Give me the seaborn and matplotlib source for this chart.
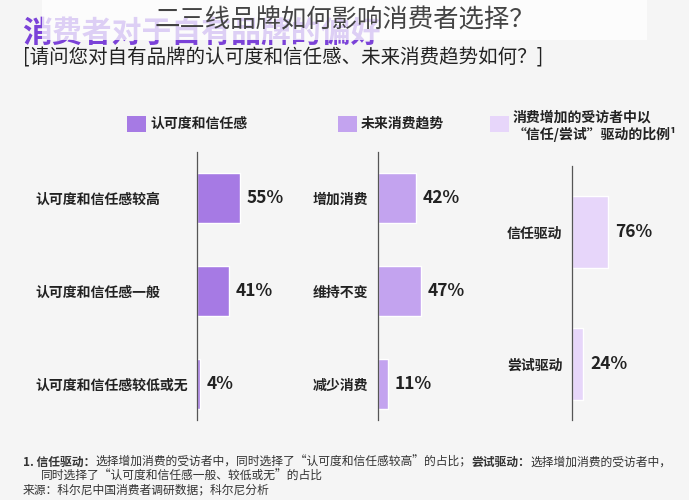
import matplotlib
matplotlib.use("Agg")
import matplotlib.pyplot as plt
import seaborn as sns
import pandas as pd

sns.set_theme(style="white")
plt.rcParams['font.family'] = ['Noto Sans CJK SC', 'DejaVu Sans']

# ---- data ----
trust_cats = ["认可度和信任感较高", "认可度和信任感一般", "认可度和信任感较低或无"]
trust_vals = [55, 41, 4]
trend_cats = ["增加消费", "维持不变", "减少消费"]
trend_vals = [42, 47, 11]
driver_cats = ["信任驱动", "尝试驱动"]
driver_vals = [76, 24]
legend_labels = ["认可度和信任感", "未来消费趋势", "消费增加的受访者中以\n“信任/尝试”驱动的比例¹"]

colors = ["#a67ae4", "#c3a3ef", "#e7d6fa"]
BG = "#f5f5f5"
W, H = 689, 500

fig = plt.figure(figsize=(W / 100, H / 100), dpi=100, facecolor=BG)


def px_axes(x0, y0, x1, y1):
    return fig.add_axes([x0 / W, 1 - y1 / H, (x1 - x0) / W, (y1 - y0) / H])


def panel(cats, vals, color, x_axis, px_per_pct, y_top, y_bot, c0, spacing, bar_h,
          label_left=None):
    width_px = 110
    ax = px_axes(x_axis, y_top, x_axis + width_px, y_bot)
    ax.set_facecolor("none")
    df = pd.DataFrame({"cat": cats, "val": vals})
    sns.barplot(data=df, x="val", y="cat", orient="h", color=color,
                width=bar_h / spacing, saturation=1, ax=ax)
    ax.set_xlim(0, width_px / px_per_pct)
    ax.set_ylim((y_bot - c0) / spacing, -(c0 - y_top) / spacing)
    for s in ["top", "right", "bottom"]:
        ax.spines[s].set_visible(False)
    ax.spines["left"].set_color("#555555")
    ax.spines["left"].set_linewidth(0.9)
    ax.set_xticks([])
    ax.set_xlabel("")
    ax.set_ylabel("")
    if label_left is not None:
        ax.tick_params(axis="y", length=0, pad=(x_axis - label_left) * 0.72)
    else:
        ax.tick_params(axis="y", length=0, pad=7)
    for lab in ax.get_yticklabels():
        lab.set_fontsize(10)
        lab.set_fontweight("bold")
        lab.set_color("#222222")
        if label_left is not None:
            lab.set_horizontalalignment("left")
    for p, v in zip(ax.patches, vals):
        ax.annotate(f"{v}%", (p.get_width(), p.get_y() + p.get_height() / 2),
                    xytext=(5, 0), textcoords="offset points",
                    ha="left", va="center", fontsize=12.5, fontweight="bold",
                    color="#222222")
    return ax


panel(trust_cats, trust_vals, colors[0], 197, 43 / 55, 152, 420, 198, 93, 50,
      label_left=35)
panel(trend_cats, trend_vals, colors[1], 378, 38 / 42, 152, 420, 198, 93, 50)
panel(driver_cats, driver_vals, colors[2], 572, 36 / 76, 166, 420, 232, 132, 72)

# ---- titles ----
fig.text(22 / W, 1 - 33 / H, "消费者对于自有品牌的偏好", fontsize=21.5, fontweight="heavy",
         color="#7b42d8", ha="left", va="center")
fig.patches.append(plt.Rectangle((42 / W, 1 - 40 / H), (647 - 42) / W, 40 / H,
                                 transform=fig.transFigure, facecolor="white",
                                 alpha=0.75, edgecolor="none", zorder=5))
fig.text(345 / W, 1 - 20 / H, "二三线品牌如何影响消费者选择？", fontsize=18.3,
         color="#444444", ha="center", va="center", zorder=6)
fig.text(23 / W, 1 - 58 / H, "[请问您对自有品牌的认可度和信任感、未来消费趋势如何？]",
         fontsize=14, color="#222222", ha="left", va="center")

# ---- legend ----
leg_x = [127, 338, 490]
for x, c, lab in zip(leg_x, colors, legend_labels):
    fig.patches.append(plt.Rectangle((x / W, 1 - 132 / H), 19 / W, 16 / H,
                                     transform=fig.transFigure, facecolor=c,
                                     edgecolor="none"))
    lines = lab.split("\n")
    if len(lines) > 1:
        for i, ln in enumerate(lines):
            fig.text((x + 23) / W, 1 - (118 + 16 * i) / H, ln, fontsize=10,
                     fontweight="bold", color="#222222", ha="left", va="center")
    else:
        fig.text((x + 23) / W, 1 - 124 / H, lab, fontsize=10, fontweight="bold",
                 color="#222222", ha="left", va="center")

# ---- footnotes ----
fig.canvas.draw()
renderer = fig.canvas.get_renderer()


def run_line(x_px, y_px, parts):
    x = x_px / W
    for txt, bold in parts:
        t = fig.text(x, 1 - y_px / H, txt, fontsize=8.5, color="#333333",
                     fontweight="bold" if bold else "normal", ha="left", va="center")
        bb = t.get_window_extent(renderer=renderer)
        x += bb.width / W


run_line(23, 462, [("1. 信任驱动：", True),
                   ("选择增加消费的受访者中，同时选择了“认可度和信任感较高”的占比；", False),
                   ("尝试驱动：", True),
                   ("选择增加消费的受访者中，", False)])
run_line(41, 476, [("同时选择了“认可度和信任感一般、较低或无”的占比", False)])
run_line(23, 490, [("来源：科尔尼中国消费者调研数据；科尔尼分析", False)])

fig.savefig("out.png", dpi=100, facecolor=BG)
